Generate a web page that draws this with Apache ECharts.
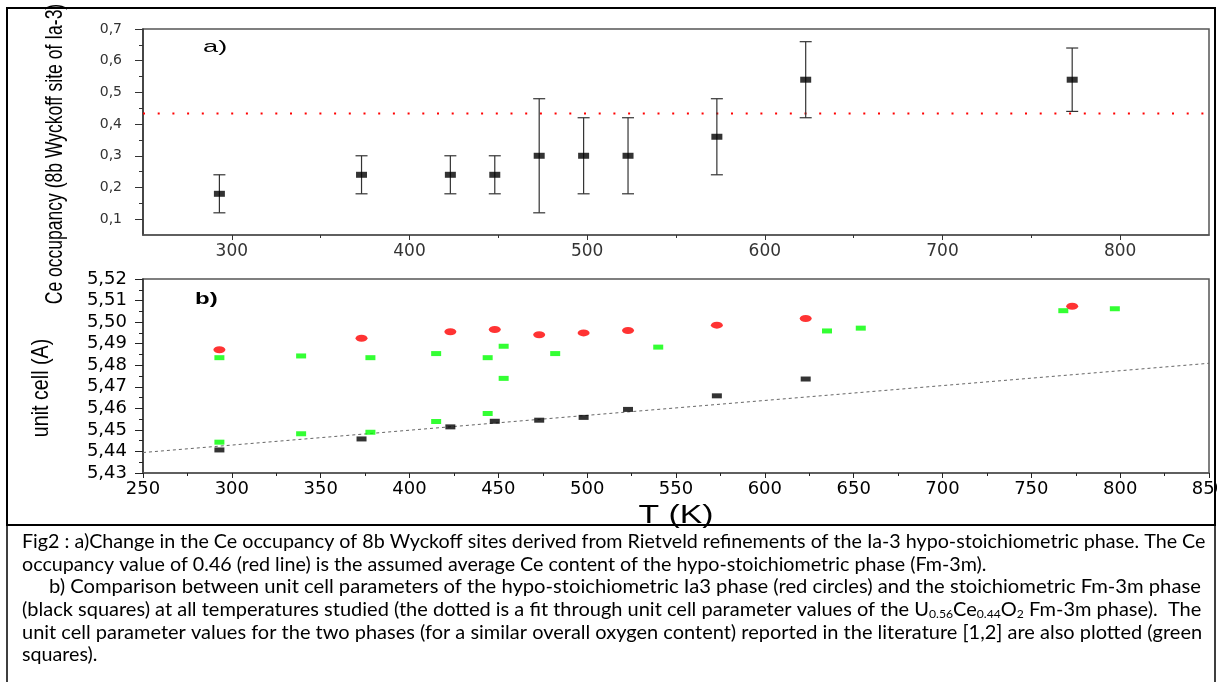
<!DOCTYPE html>
<html><head><meta charset="utf-8">
<script src="https://cdn.jsdelivr.net/npm/echarts@6/dist/echarts.min.js"></script>
<style>html,body{margin:0;padding:0;background:#fff}#c{width:1217px;height:682px}</style>
</head><body><div id="c"></div>
<script>
// ---- Panel a) Ce occupancy of 8b Wyckoff site ----
const tempA = [293, 373, 423, 448, 473, 498, 523, 573, 623, 773];
const occupancy = [0.18, 0.24, 0.24, 0.24, 0.30, 0.30, 0.30, 0.36, 0.54, 0.54];
const occErr = [0.06, 0.06, 0.06, 0.06, 0.18, 0.12, 0.12, 0.12, 0.12, 0.10];
const refLineX = [250, 850];
const refLineY = [0.433, 0.433];
const occTicks = [0.1, 0.2, 0.3, 0.4, 0.5, 0.6, 0.7];
const occMinorTicks = [0.15, 0.25, 0.35, 0.45, 0.55, 0.65];
const tempTicksA = [300, 400, 500, 600, 700, 800];
const tempMinorA = [350, 450, 550, 650, 750];

// ---- Panel b) unit cell ----
const tempRed = [293, 373, 423, 448, 473, 498, 523, 573, 623, 773];
const cellRed = [5.4872, 5.4925, 5.4955, 5.4966, 5.4941, 5.4950, 5.4961, 5.4986, 5.5017, 5.5074];
const tempBlack = [293, 373, 423, 448, 473, 498, 523, 573, 623];
const cellBlack = [5.4407, 5.4458, 5.4514, 5.4540, 5.4545, 5.4558, 5.4595, 5.4658, 5.4736];
const tempGreen = [293, 293, 339, 339, 378, 378, 415, 415, 444, 444, 453, 453, 482, 540, 635, 654, 768, 797];
const cellGreen = [5.4835, 5.4443, 5.4843, 5.4482, 5.4835, 5.4489, 5.4854, 5.4539, 5.4835, 5.4576, 5.4888, 5.4739, 5.4854, 5.4884, 5.4959, 5.4972, 5.5053, 5.5062];
const fitX = [250, 850];
const fitY = [5.4395, 5.4809];

// ---- Texts ----
const titleA = 'Ce occupancy (8b Wyckoff site of Ia-3)';
const titleB = 'unit cell (A)';
const titleX = 'T (K)';
const captionLines = [
  'Fig2 : a)Change in the Ce occupancy of 8b Wyckoff sites derived from Rietveld refinements of the Ia-3 hypo-stoichiometric phase. The Ce',
  'occupancy value of 0.46 (red line) is the assumed average Ce content of the hypo-stoichiometric phase (Fm-3m).',
  'b) Comparison between unit cell parameters of the hypo-stoichiometric Ia3 phase (red circles) and the stoichiometric Fm-3m phase',
  '(black squares) at all temperatures studied (the dotted is a fit through unit cell parameter values of the U{s|0.56}Ce{s|0.44}O{s|2} Fm-3m phase).  The',
  'unit cell parameter values for the two phases (for a similar overall oxygen content) reported in the literature [1,2] are also plotted (green',
  'squares).'
];
const captionIndent = [22, 22, 49, 22, 22, 22];
const captionJustify = [1.0, 1.0, 1.025, 1.016, 1.015, 1.0];

const zip = (xs, ys) => xs.map((x, i) => [x, ys[i]]);

const chart = echarts.init(document.getElementById('c'), null, {renderer: 'canvas'});
const capFont = 'Lato';
const capSize = 19.7;
const capGraphics = captionLines.map((t, i) => ({
  type: 'text', x: captionIndent[i], y: 541.7 + i * 22.66, z: 50, scaleX: captionJustify[i],
  style: {
    text: t, fill: '#000', fontFamily: capFont, fontSize: capSize,
    textAlign: 'left', align: 'left', textVerticalAlign: 'middle', verticalAlign: 'middle',
    rich: { s: { fontFamily: capFont, fontSize: 12, fill: '#000', padding: [8, 0, 0, 0] } }
  }
}));

const option = {
  animation: false,
  backgroundColor: '#fff',
  grid: [
    {left: 143, top: 29, width: 1066, height: 206, outerBoundsMode: 'none', containLabel: false, show: true, borderColor: '#555', borderWidth: 1.5, backgroundColor: 'transparent'},
    {left: 143, top: 279, width: 1066, height: 194, outerBoundsMode: 'none', containLabel: false, show: true, borderColor: '#555', borderWidth: 1.5, backgroundColor: 'transparent'}
  ],
  xAxis: [
    {type: 'value', gridIndex: 0, min: 250, max: 850, position: 'bottom',
     axisLine: {show: true, lineStyle: {color: '#555', width: 1.5}},
     axisTick: {show: true, customValues: tempTicksA, length: 5, lineStyle: {color: '#333'}},
     axisLabel: {customValues: tempTicksA, fontFamily: 'DejaVu Sans', fontSize: 17, color: '#333', margin: 8},
     splitLine: {show: false}},
    {type: 'value', gridIndex: 0, min: 250, max: 850, position: 'bottom',
     axisLine: {show: false},
     axisTick: {show: true, customValues: tempMinorA, length: 3, lineStyle: {color: '#333'}},
     axisLabel: {show: false}, splitLine: {show: false}},
    {type: 'value', gridIndex: 1, min: 250, max: 850, interval: 50, position: 'bottom',
     axisLine: {show: true, lineStyle: {color: '#555', width: 1.5}},
     axisTick: {show: true, length: 5, lineStyle: {color: '#222'}},
     minorTick: {show: true, splitNumber: 2, length: 3, lineStyle: {color: '#222'}},
     axisLabel: {fontFamily: 'DejaVu Sans', fontSize: 18, color: '#000', margin: 7, showMinLabel: true, showMaxLabel: true},
     splitLine: {show: false}}
  ],
  yAxis: [
    {type: 'value', gridIndex: 0, min: 0.05, max: 0.7, position: 'left',
     axisLine: {show: true, lineStyle: {color: '#333', width: 1.5}},
     axisTick: {show: true, customValues: occTicks, length: 8, lineStyle: {color: '#333'}},
     axisLabel: {customValues: occTicks, formatter: v => v.toFixed(1).replace('.', ','), fontFamily: 'DejaVu Sans', fontSize: 14, color: '#333', margin: 21},
     splitLine: {show: false}},
    {type: 'value', gridIndex: 0, min: 0.05, max: 0.7, position: 'left',
     axisLine: {show: false},
     axisTick: {show: true, customValues: occMinorTicks, length: 4, lineStyle: {color: '#333'}},
     axisLabel: {show: false}, splitLine: {show: false}},
    {type: 'value', gridIndex: 1, min: 5.43, max: 5.52, interval: 0.01, position: 'left',
     axisLine: {show: true, lineStyle: {color: '#333', width: 1.5}},
     axisTick: {show: true, length: 8, lineStyle: {color: '#222'}},
     minorTick: {show: true, splitNumber: 2, length: 4, lineStyle: {color: '#222'}},
     axisLabel: {formatter: v => v.toFixed(2).replace('.', ','), fontFamily: 'DejaVu Sans', fontSize: 18, color: '#000', margin: 16, showMinLabel: true, showMaxLabel: true},
     splitLine: {show: false}}
  ],
  series: [
    {name: 'occupancy error', type: 'custom', xAxisIndex: 0, yAxisIndex: 0, z: 2,
     data: tempA.map((t, i) => [t, occupancy[i] - occErr[i], occupancy[i] + occErr[i]]),
     encode: {x: 0, y: [1, 2]},
     renderItem: function (params, api) {
       const x = api.value(0);
       const pLo = api.coord([x, api.value(1)]);
       const pHi = api.coord([x, api.value(2)]);
       const hw = 6;
       const st = {stroke: '#333', lineWidth: 1.2, fill: null};
       return {type: 'group', children: [
         {type: 'line', shape: {x1: pLo[0], y1: pLo[1], x2: pHi[0], y2: pHi[1]}, style: st},
         {type: 'line', shape: {x1: pLo[0] - hw, y1: pLo[1], x2: pLo[0] + hw, y2: pLo[1]}, style: st},
         {type: 'line', shape: {x1: pHi[0] - hw, y1: pHi[1], x2: pHi[0] + hw, y2: pHi[1]}, style: st}
       ]};
     }},
    {name: 'average Ce content', type: 'line', xAxisIndex: 0, yAxisIndex: 0, z: 1,
     data: zip(refLineX, refLineY), symbol: 'none', silent: true,
     lineStyle: {color: '#ff0000', width: 2, type: [2, 12.7]}},
    {name: 'Ce occupancy', type: 'scatter', xAxisIndex: 0, yAxisIndex: 0, z: 3,
     data: zip(tempA, occupancy), symbol: 'rect', symbolSize: [11, 6],
     itemStyle: {color: '#000'}},
    {name: 'fit Fm-3m', type: 'line', xAxisIndex: 2, yAxisIndex: 2, z: 1,
     data: zip(fitX, fitY), symbol: 'none', silent: true,
     lineStyle: {color: '#666', width: 1, type: [3, 3]}},
    {name: 'literature', type: 'scatter', xAxisIndex: 2, yAxisIndex: 2, z: 3,
     data: zip(tempGreen, cellGreen), symbol: 'rect', symbolSize: [10, 5],
     itemStyle: {color: '#00ff00'}},
    {name: 'Ia3 phase', type: 'scatter', xAxisIndex: 2, yAxisIndex: 2, z: 3,
     data: zip(tempRed, cellRed), symbol: 'circle', symbolSize: [12, 7],
     itemStyle: {color: '#ff0000'}},
    {name: 'Fm-3m phase', type: 'scatter', xAxisIndex: 2, yAxisIndex: 2, z: 3,
     data: zip(tempBlack, cellBlack), symbol: 'rect', symbolSize: [10, 5],
     itemStyle: {color: '#000'}}
  ],
  graphic: [
    {type: 'rect', z: 60, shape: {x: 7, y: 8, width: 1208, height: 517}, style: {fill: null, stroke: '#000', lineWidth: 2}},
    {type: 'rect', z: 60, shape: {x: 7, y: 525, width: 1208, height: 170}, style: {fill: null, stroke: '#000', lineWidth: 1.5}},
    {type: 'text', z: 50, x: 55, y: 154, rotation: Math.PI / 2, scaleX: 0.73,
     style: {text: titleA, fontFamily: 'Liberation Sans', fontSize: 24, fill: '#000', textAlign: 'center', align: 'center', textVerticalAlign: 'middle', verticalAlign: 'middle'}},
    {type: 'text', z: 50, x: 41, y: 388, rotation: Math.PI / 2, scaleX: 0.82,
     style: {text: titleB, fontFamily: 'Liberation Sans', fontSize: 24, fill: '#000', textAlign: 'center', align: 'center', textVerticalAlign: 'middle', verticalAlign: 'middle'}},
    {type: 'text', z: 50, x: 676, y: 516, scaleX: 1.3,
     style: {text: titleX, fontFamily: 'Liberation Sans', fontSize: 26, fill: '#000', textAlign: 'center', align: 'center', textVerticalAlign: 'middle', verticalAlign: 'middle'}},
    {type: 'text', z: 50, x: 203, y: 47, scaleX: 1.6,
     style: {text: 'a)', fontFamily: 'Liberation Sans', fontSize: 17, fill: '#000', textAlign: 'left', align: 'left', textVerticalAlign: 'middle', verticalAlign: 'middle'}},
    {type: 'text', z: 50, x: 195, y: 300, scaleX: 1.5,
     style: {text: 'b)', fontFamily: 'Liberation Sans', fontSize: 16, fontWeight: 'bold', fill: '#000', textAlign: 'left', align: 'left', textVerticalAlign: 'middle', verticalAlign: 'middle'}}
  ].concat(capGraphics)
};
chart.setOption(option);
</script>
</body></html>
